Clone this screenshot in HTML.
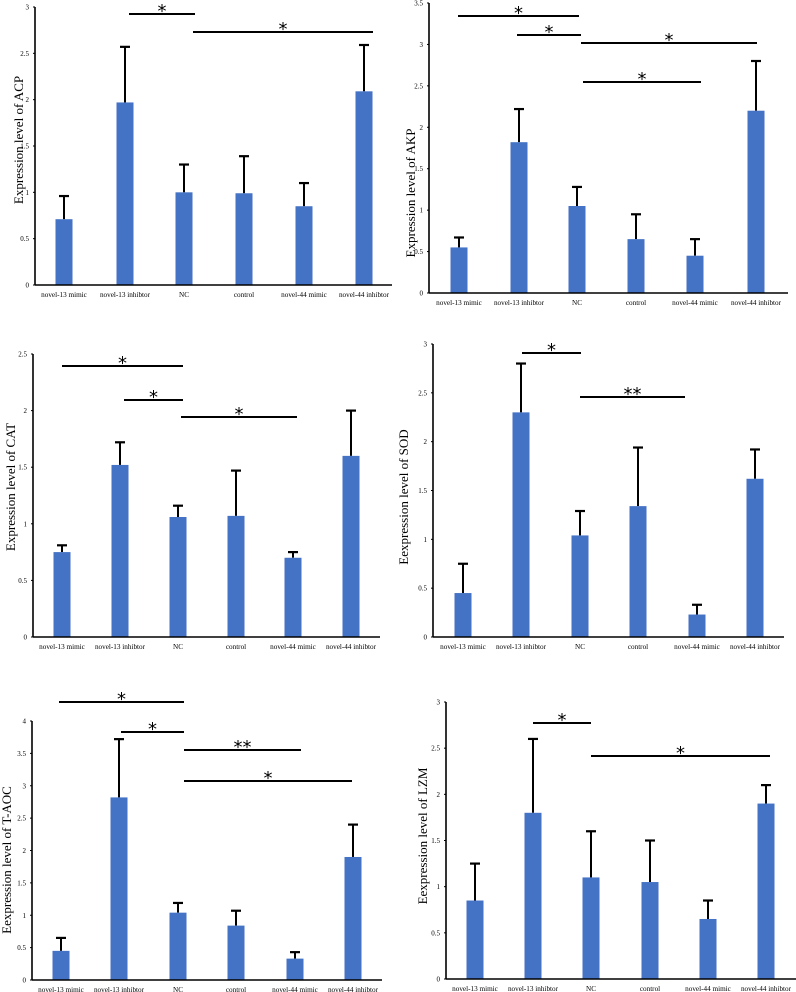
<!DOCTYPE html>
<html><head><meta charset="utf-8"><style>
html,body{margin:0;padding:0;background:#fff;}
svg{display:block;font-family:"Liberation Serif",serif;}
</style></head>
<body>
<svg id="fig" width="796" height="992" viewBox="0 0 796 992"></svg>
<script>
const categories = ["novel-13 mimic","novel-13 inhibtor","NC","control","novel-44 mimic","novel-44 inhibtor"];
const acpValues = [0.71,1.97,1.0,0.99,0.85,2.09];
const acpUpper  = [0.96,2.57,1.3,1.39,1.1,2.59];
const akpValues = [0.55,1.82,1.05,0.65,0.45,2.2];
const akpUpper  = [0.67,2.22,1.28,0.95,0.65,2.8];
const catValues = [0.75,1.52,1.06,1.07,0.70,1.6];
const catUpper  = [0.81,1.72,1.16,1.47,0.75,2.0];
const sodValues = [0.45,2.3,1.04,1.34,0.23,1.62];
const sodUpper  = [0.75,2.8,1.29,1.94,0.33,1.92];
const taocValues = [0.45,2.82,1.04,0.84,0.33,1.9];
const taocUpper  = [0.65,3.72,1.19,1.07,0.43,2.4];
const lzmValues = [0.85,1.8,1.1,1.05,0.65,1.9];
const lzmUpper  = [1.25,2.6,1.6,1.5,0.85,2.1];
const acpTicks = ["0","0.5","1","1.5","2","2.5","3"];
const akpTicks = ["0","0.5","1","1.5","2","2.5","3","3.5"];
const catTicks = ["0","0.5","1","1.5","2","2.5"];
const sodTicks = ["0","0.5","1","1.5","2","2.5","3"];
const taocTicks = ["0","0.5","1","1.5","2","2.5","3","3.5","4"];
const lzmTicks = ["0","0.5","1","1.5","2","2.5","3"];

const NS="http://www.w3.org/2000/svg";
const svg=document.getElementById('fig');
function mk(tag,attrs,parent){const e=document.createElementNS(NS,tag);for(const k in attrs)e.setAttribute(k,attrs[k]);(parent||svg).appendChild(e);return e;}

const panels=[
 {key:'acp',title:'Expression level of ACP',vals:acpValues,up:acpUpper,ticks:acpTicks,ymax:3,ax:35,y0:285,ytop:7,right:392,cx:[64,125,184,244,304,364],tx:20,ty:140,
  sig:[{y:14,x1:129,x2:195,t:'*'},{y:32,x1:193,x2:373,t:'*'}]},
 {key:'akp',title:'Expression level of AKP',vals:akpValues,up:akpUpper,ticks:akpTicks,ymax:3.5,ax:429,y0:293,ytop:3,right:788,cx:[459,519,577,636,695,756],tx:412,ty:193,
  sig:[{y:16,x1:458,x2:579,t:'*'},{y:35,x1:517,x2:581,t:'*'},{y:43,x1:581,x2:757,t:'*'},{y:82,x1:583,x2:701,t:'*'}]},
 {key:'cat',title:'Expression level of CAT',vals:catValues,up:catUpper,ticks:catTicks,ymax:2.5,ax:33,y0:637,ytop:354,right:380,cx:[62,120,178,236,293,351],tx:12,ty:487,
  sig:[{y:366,x1:62,x2:183,t:'*'},{y:400,x1:124,x2:183,t:'*'},{y:417,x1:181,x2:297,t:'*'}]},
 {key:'sod',title:'Eexpression level of SOD',vals:sodValues,up:sodUpper,ticks:sodTicks,ymax:3,ax:433,y0:637,ytop:344,right:784,cx:[463,521,580,638,697,755],tx:405,ty:497,
  sig:[{y:353,x1:522,x2:581,t:'*'},{y:397,x1:580,x2:685,t:'**'}]},
 {key:'taoc',title:'Eexpression level of T-AOC',vals:taocValues,up:taocUpper,ticks:taocTicks,ymax:4,ax:32,y0:980,ytop:721,right:382,cx:[61,119,178,236,295,353],tx:8,ty:860,
  sig:[{y:702,x1:59,x2:184,t:'*'},{y:732,x1:121,x2:184,t:'*'},{y:750,x1:184,x2:301,t:'**'},{y:781,x1:184,x2:352,t:'*'}]},
 {key:'lzm',title:'Eexpression level of LZM',vals:lzmValues,up:lzmUpper,ticks:lzmTicks,ymax:3,ax:446,y0:979,ytop:702,right:796,cx:[475,533,591,650,708,766],tx:424,ty:836,
  sig:[{y:723,x1:533,x2:591,t:'*'},{y:756,x1:591,x2:770,t:'*'}]}
];

panels.forEach(p=>{
  const g=mk('g',{});
  
  
  const yS=v=>p.y0-(v/p.ymax)*(p.y0-p.ytop);
  // bars
  p.vals.forEach((v,i)=>{
    const top=yS(v);
    const eb=mk('line',{x1:p.cx[i],x2:p.cx[i],y1:yS(p.up[i]),y2:top,stroke:'#000','stroke-width':2},g);
    
    
    const cap=mk('line',{x1:p.cx[i]-5,x2:p.cx[i]+5,y1:yS(p.up[i]),y2:yS(p.up[i]),stroke:'#000','stroke-width':2.2},g);
    
    
    const r=mk('rect',{x:p.cx[i]-8.5,y:top,width:17,height:p.y0-top,fill:'#4472c4'},g);
    
    
    const t=mk('text',{x:p.cx[i],y:p.y0+12,'font-size':7.2,'text-anchor':'middle',fill:'#000'},g);
    t.textContent=categories[i];
    
    
  });
  // axes
  const ya=mk('line',{x1:p.ax,x2:p.ax,y1:p.ytop,y2:p.y0,stroke:'#000','stroke-width':1.6},g);
  
  
  const xa=mk('line',{x1:p.ax,x2:p.right,y1:p.y0,y2:p.y0,stroke:'#000','stroke-width':1.6},g);
  
  
  p.ticks.forEach(lbl=>{
    const y=yS(parseFloat(lbl));
    mk('line',{x1:p.ax-2,x2:p.ax,y1:y,y2:y,stroke:'#000','stroke-width':1},g);
    const t=mk('text',{x:p.ax-6,y:y+2.5,'font-size':7,'text-anchor':'end',fill:'#000'},g);
    t.textContent=lbl;
    
    
  });
  const tt=mk('text',{x:p.tx,y:p.ty,'font-size':13,'text-anchor':'middle',fill:'#000',transform:'rotate(-90 '+p.tx+' '+p.ty+')','dominant-baseline':'middle'},g);
  tt.textContent=p.title;
  
  
  p.sig.forEach((s,j)=>{
    const l=mk('line',{x1:s.x1,x2:s.x2,y1:s.y,y2:s.y,stroke:'#000','stroke-width':2},g);
    
    
    const st=mk('text',{x:(s.x1+s.x2)/2,y:s.y+3,'font-size':18,'text-anchor':'middle',fill:'#000','font-family':'DejaVu Sans, sans-serif'},g);
    st.textContent=s.t;
    
    
  });
});
</script>
</body></html>
